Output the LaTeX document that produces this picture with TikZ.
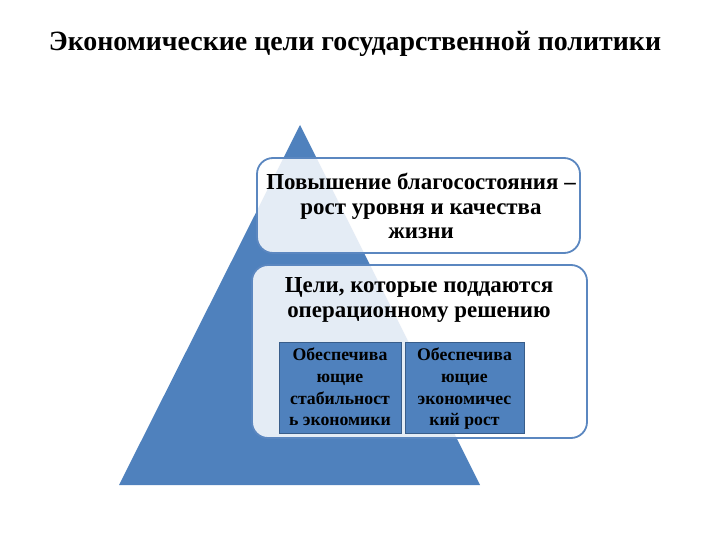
\documentclass[tikz,border=0pt]{standalone}
\usepackage{fontspec}
\setmainfont{Liberation Serif}
\definecolor{pyr}{HTML}{4F81BD}
\definecolor{pyrdark}{HTML}{385D8A}
\definecolor{boxline}{HTML}{5B87C0}
\tikzset{
  goalbox/.style={draw=boxline, line width=1.8bp, rounded corners=16bp, fill=white, fill opacity=0.85, text opacity=1},
  subbox/.style={draw=pyrdark, line width=1bp, fill=pyr, inner sep=0pt},
  subtxt/.style={align=center, inner sep=0pt, font=\bfseries\fontsize{17.8}{21.7}\selectfont},
  txt/.style={align=center, font=\bfseries\fontsize{23}{25}\selectfont},
}
\begin{document}
\begin{tikzpicture}[x=1bp,y=-1bp]
\useasboundingbox (0,0) rectangle (720,540);
\node[font=\bfseries\fontsize{28}{32}\selectfont] (title) at (355,44) {Экономические цели государственной политики};
\fill[pyr] (300,125) -- (480,485) -- (119,485) -- cycle;
\draw[goalbox] (257,158) rectangle (580,253);
\node[txt] (g1) at (421,206) {Повышение благосостояния –\\рост уровня и качества\\жизни};
\draw[goalbox] (252,265) rectangle (587,438);
\node[txt] (g2) at (419,300) {Цели, которые поддаются\\операционному решению};
\node[subbox, minimum width=122bp, minimum height=91bp] (s1) at (340,387.5) {};
\node[subbox, minimum width=119bp, minimum height=91bp] (s2) at (464.5,387.5) {};
\node[subtxt] (t1) at (340,389) {\strut Обеспечива\\ющие\\стабильност\\ь экономики\strut};
\node[subtxt] (t2) at (464.5,389) {\strut Обеспечива\\ющие\\экономичес\\кий рост\strut};
\end{tikzpicture}
\end{document}
